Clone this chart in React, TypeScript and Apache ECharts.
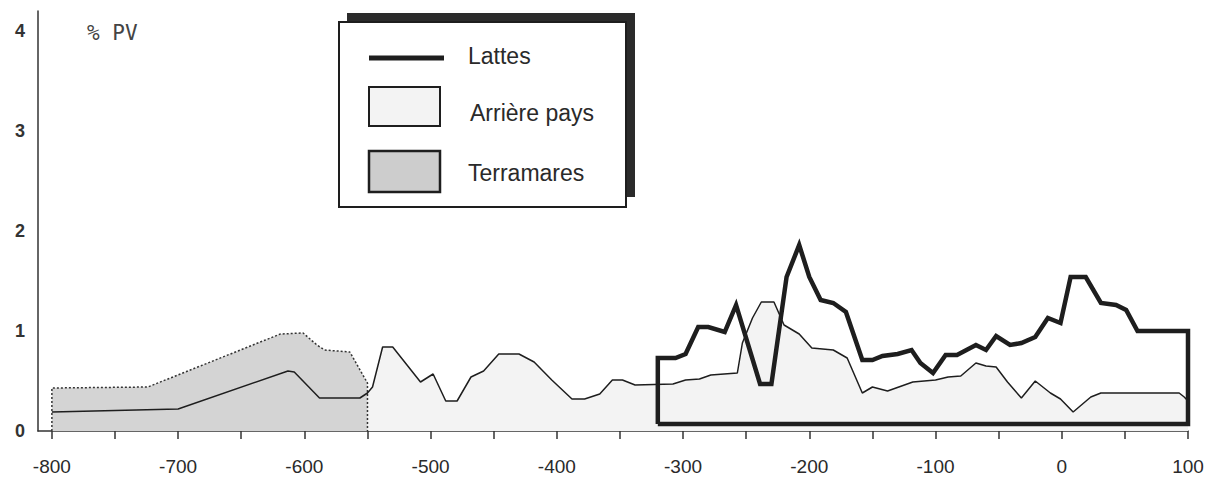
import React, { useEffect, useRef } from "react";
import * as echarts from "echarts";

// Arrière pays (thin line, light fill) – year, %PV
const arriereX = [-800, -700, -613, -608, -588, -556, -550, -546, -538, -530, -508, -498, -488, -479, -468, -458, -446, -430, -418, -404, -388, -378, -366, -356, -348, -338, -308, -298, -287, -278, -257, -253, -245, -238, -228, -220, -208, -198, -181, -170, -158, -150, -138, -118, -100, -90, -80, -68, -60, -52, -43, -32, -21, -9, -1, 9, 23, 31, 93, 97, 100];
const arriereY = [0.19, 0.22, 0.6, 0.59, 0.33, 0.33, 0.38, 0.44, 0.84, 0.84, 0.49, 0.57, 0.3, 0.3, 0.54, 0.6, 0.77, 0.77, 0.69, 0.51, 0.32, 0.32, 0.37, 0.51, 0.51, 0.46, 0.47, 0.51, 0.52, 0.56, 0.58, 0.88, 1.13, 1.29, 1.29, 1.06, 0.97, 0.83, 0.81, 0.73, 0.38, 0.44, 0.4, 0.49, 0.51, 0.54, 0.55, 0.68, 0.65, 0.64, 0.49, 0.33, 0.5, 0.38, 0.32, 0.19, 0.34, 0.38, 0.38, 0.34, 0.3];

// Terramares (dotted outline, grey fill)
const terramaresX = [-800, -800, -724, -619, -601, -590, -584, -564, -550, -550];
const terramaresY = [0, 0.43, 0.44, 0.97, 0.98, 0.86, 0.81, 0.79, 0.48, 0];

// Lattes (thick closed outline)
const lattesX = [-320, -320, -306, -298, -288, -280, -267, -258, -239, -230, -218, -208, -200, -191, -181, -171, -158, -150, -142, -130, -119, -112, -102, -92, -83, -68, -60, -52, -41, -32, -21, -11, -1, 7, 19, 31, 43, 51, 60, 100, 100, -320];
const lattesY = [0.07, 0.73, 0.73, 0.77, 1.04, 1.04, 0.99, 1.26, 0.47, 0.47, 1.54, 1.86, 1.54, 1.31, 1.28, 1.19, 0.71, 0.71, 0.75, 0.77, 0.81, 0.68, 0.58, 0.76, 0.76, 0.86, 0.81, 0.95, 0.86, 0.88, 0.94, 1.13, 1.08, 1.54, 1.54, 1.28, 1.26, 1.21, 1.0, 1.0, 0.07, 0.07];

const xLabels = [-800, -700, -600, -500, -400, -300, -200, -100, 0, 100];
const xTicks = [-800, -750, -700, -650, -600, -550, -500, -450, -400, -350, -300, -250, -200, -150, -100, -50, 0, 50, 100];
const yLabels = [0, 1, 2, 3, 4];

const legendNames = ["Lattes", "Arrière pays", "Terramares"];

const zip = (xs: number[], ys: number[]) => xs.map((x, i) => [x, ys[i]]);

export default function App() {
  const ref = useRef<HTMLDivElement>(null);
  useEffect(() => {
    if (!ref.current) return;
    const chart = echarts.init(ref.current, null, { renderer: "svg" });
    const ink = "#1e1e1e";
    const font = "Liberation Sans, Arial, sans-serif";
    chart.setOption({
      animation: false,
      backgroundColor: "#ffffff",
      grid: { left: 38, right: 38, top: 11, bottom: 55 },
      xAxis: {
        type: "value",
        min: -811,
        max: 100,
        splitLine: { show: false },
        axisLine: { show: true, onZero: false, lineStyle: { color: "#333", width: 1.5 } },
        axisTick: { show: true, length: 8, customValues: xTicks, lineStyle: { color: "#333", width: 1.5 } },
        axisLabel: { customValues: xLabels, margin: 26, fontSize: 19, color: "#2a2a2a", fontFamily: font },
      },
      yAxis: {
        type: "value",
        min: 0,
        max: 4.2,
        splitLine: { show: false },
        axisLine: { show: true, onZero: false, lineStyle: { color: "#333", width: 1.5 } },
        axisTick: { show: false },
        axisLabel: { customValues: yLabels, margin: 13, fontSize: 18, fontWeight: "bold", color: "#333", fontFamily: font, padding: [0, 0, 10, 0] },
      },
      series: [
        {
          name: "Arrière pays fond",
          type: "line",
          data: zip(arriereX, arriereY),
          symbol: "none",
          lineStyle: { width: 0, opacity: 0 },
          areaStyle: { color: "#f3f3f3", opacity: 1 },
          silent: true,
        },
        {
          name: "Terramares",
          type: "line",
          data: zip(terramaresX, terramaresY),
          symbol: "none",
          lineStyle: { width: 1.5, color: "#333", type: [2, 2] },
          areaStyle: { color: "#d4d4d4", opacity: 1 },
        },
        {
          name: "Arrière pays",
          type: "line",
          data: zip(arriereX, arriereY),
          symbol: "none",
          lineStyle: { width: 1.5, color: ink },
        },
        {
          name: "Lattes",
          type: "line",
          data: zip(lattesX, lattesY),
          symbol: "none",
          lineStyle: { width: 4.5, color: ink, join: "miter" },
        },
      ],
      graphic: [
        { type: "text", left: 87, top: 22, style: { text: "% PV", fontFamily: "DejaVu Sans Mono, monospace", fontSize: 21, fill: "#444" } },
        { type: "rect", shape: { x: 347, y: 13, width: 288, height: 184 }, style: { fill: "#2b2b2b" }, z: 100 },
        { type: "rect", shape: { x: 339, y: 22, width: 287, height: 185 }, style: { fill: "#fff", stroke: ink, lineWidth: 2 }, z: 101 },
        { type: "line", shape: { x1: 369, y1: 58, x2: 444, y2: 58 }, style: { stroke: ink, lineWidth: 5 }, z: 102 },
        { type: "text", x: 468, y: 56, style: { text: legendNames[0], fontFamily: font, fontSize: 23, fill: "#2a2a2a", verticalAlign: "middle" }, z: 102 },
        { type: "rect", shape: { x: 369, y: 87, width: 71, height: 39 }, style: { fill: "#f3f3f3", stroke: ink, lineWidth: 2 }, z: 102 },
        { type: "text", x: 470, y: 113, style: { text: legendNames[1], fontFamily: font, fontSize: 23, fill: "#2a2a2a", verticalAlign: "middle" }, z: 102 },
        { type: "rect", shape: { x: 369, y: 151, width: 71, height: 41 }, style: { fill: "#cdcdcd", stroke: ink, lineWidth: 2.5 }, z: 102 },
        { type: "text", x: 468, y: 173, style: { text: legendNames[2], fontFamily: font, fontSize: 23, fill: "#2a2a2a", verticalAlign: "middle" }, z: 102 },
      ],
    });
    return () => chart.dispose();
  }, []);
  return <div ref={ref} style={{ position: "fixed", left: 0, top: 0, width: 1226, height: 486, background: "#fff" }} />;
}
